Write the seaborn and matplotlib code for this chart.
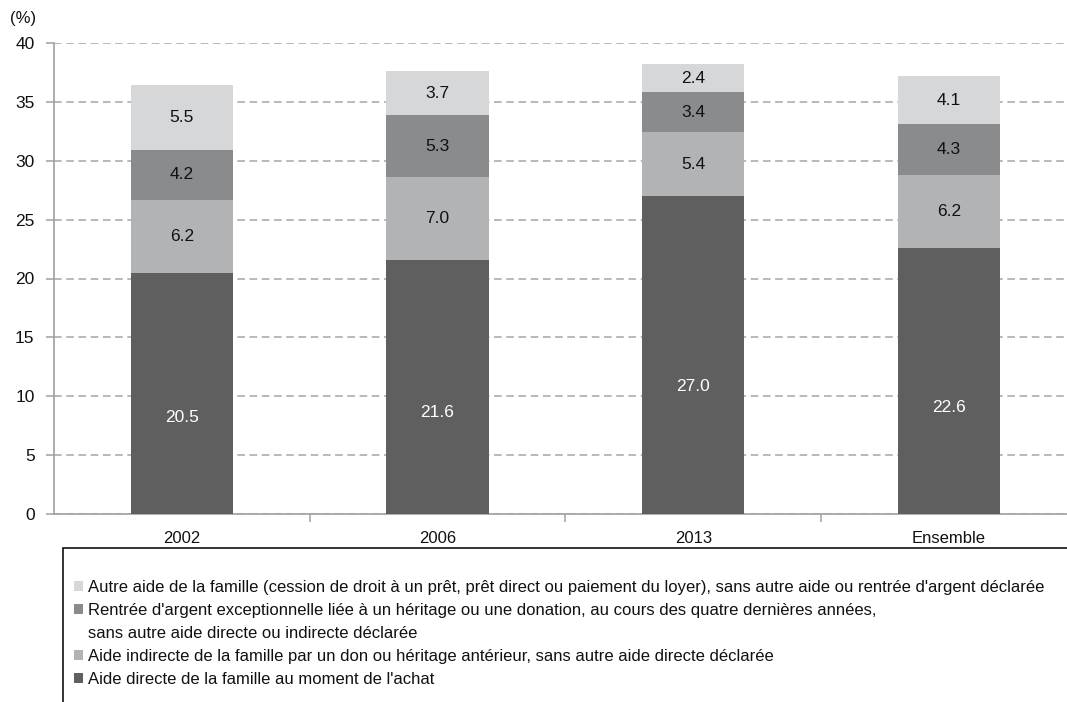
import matplotlib
matplotlib.use("Agg")
import matplotlib.pyplot as plt
from matplotlib.patches import Patch, Rectangle
import numpy as np
import pandas as pd
import seaborn as sns

# Survey years plus the pooled column
categories = ["2002", "2006", "2013", "Ensemble"]

# Share of buyers (%) by type of family help, bottom to top of each stack
aide_directe = [20.5, 21.6, 27.0, 22.6]
aide_indirecte = [6.2, 7.0, 5.4, 6.2]
rentree_argent = [4.2, 5.3, 3.4, 4.3]
autre_aide = [5.5, 3.7, 2.4, 4.1]

series_labels = [
    "Aide directe de la famille au moment de l'achat",
    "Aide indirecte de la famille par un don ou héritage antérieur, sans autre aide directe déclarée",
    "Rentrée d'argent exceptionnelle liée à un héritage ou une donation, au cours des quatre dernières années,",
    "Autre aide de la famille (cession de droit à un prêt, prêt direct ou paiement du loyer), sans autre aide ou rentrée d'argent déclarée",
]
continuation_label = "sans autre aide directe ou indirecte déclarée"

y_ticks = [0, 5, 10, 15, 20, 25, 30, 35, 40]

colors = ["#5f5f60", "#b2b3b4", "#8a8b8c", "#d6d7d8"]
text_colors = ["white", "#111111", "#111111", "#111111"]

sns.set_theme(style="white")
plt.rcParams["font.family"] = ["Liberation Sans", "DejaVu Sans"]

fig = plt.figure(figsize=(10.67, 7.02), dpi=100)
ax = fig.add_axes([54 / 1067, 1 - 514 / 702, 1 - 54 / 1067 + 0.002, (514 - 43) / 702])

layers = [aide_directe, aide_indirecte, rentree_argent, autre_aide]
stack = np.cumsum(np.array(layers, dtype=float), axis=0)

df = pd.DataFrame({"categorie": categories})
# Draw cumulative heights from the tallest down so each layer covers the one above it
for i in range(len(layers) - 1, -1, -1):
    df["h"] = stack[i]
    sns.barplot(data=df, x="categorie", y="h", color=colors[i], saturation=1,
                width=0.4, ax=ax, zorder=3, linewidth=0, errorbar=None)

# Value labels inside each segment
for i, vals in enumerate(layers):
    for j, v in enumerate(vals):
        base = stack[i][j] - v
        if i == 0:
            ypos = base + v * 0.4
        else:
            ypos = base + v / 2
        ax.text(j, ypos, f"{v:.1f}", ha="center", va="center",
                color=text_colors[i], fontsize=12.5, zorder=5)

ax.set_xlim(-0.5, 3.47)
ax.set_ylim(0, 40)
ax.set_yticks(y_ticks)
ax.set_yticklabels([str(t) for t in y_ticks], fontsize=12.5, color="#111111")
ax.set_xticks(range(len(categories)))
ax.set_xticklabels(categories, fontsize=12, color="#111111")
ax.set_xlabel("")
ax.set_ylabel("")

ax.yaxis.grid(True, linestyle=(0, (5, 3)), color="#a6a6a6", linewidth=1.1, zorder=0)
ax.xaxis.grid(False)
ax.set_axisbelow(True)

for side in ["top", "right"]:
    ax.spines[side].set_visible(False)
for side in ["left", "bottom"]:
    ax.spines[side].set_color("#a0a0a0")
    ax.spines[side].set_linewidth(1.2)

ax.tick_params(axis="y", which="major", left=True, length=6, width=1.1,
               color="#a0a0a0", pad=8)
ax.tick_params(axis="x", which="major", bottom=False, pad=6)
ax.set_xticks([0.5, 1.5, 2.5], minor=True)
ax.tick_params(axis="x", which="minor", bottom=True, length=6, width=1.1,
               color="#a0a0a0", direction="out")

fig.text(10 / 1067, 1 - 18 / 702, "(%)", fontsize=12, color="#111111",
         ha="left", va="center")

# Legend box
fig.patches.append(Rectangle((63 / 1067, -0.02), 1.0, 0.02 + 1 - 548 / 702,
                             transform=fig.transFigure, facecolor="white",
                             edgecolor="#111111", linewidth=1.2))

handles = [
    Patch(facecolor=colors[3], edgecolor="none"),
    Patch(facecolor=colors[2], edgecolor="none"),
    Patch(facecolor="none", edgecolor="none"),
    Patch(facecolor=colors[1], edgecolor="none"),
    Patch(facecolor=colors[0], edgecolor="none"),
]
labels = [series_labels[3], series_labels[2], continuation_label,
          series_labels[1], series_labels[0]]
leg = fig.legend(handles, labels, loc="upper left",
                 bbox_to_anchor=(74 / 1067, 1 - 580 / 702),
                 frameon=False, fontsize=12, handlelength=0.55,
                 handleheight=0.55, handletextpad=0.3, labelspacing=0.48,
                 borderpad=0, borderaxespad=0)
for t in leg.get_texts():
    t.set_color("#111111")

fig.savefig("out.png", dpi=100)
